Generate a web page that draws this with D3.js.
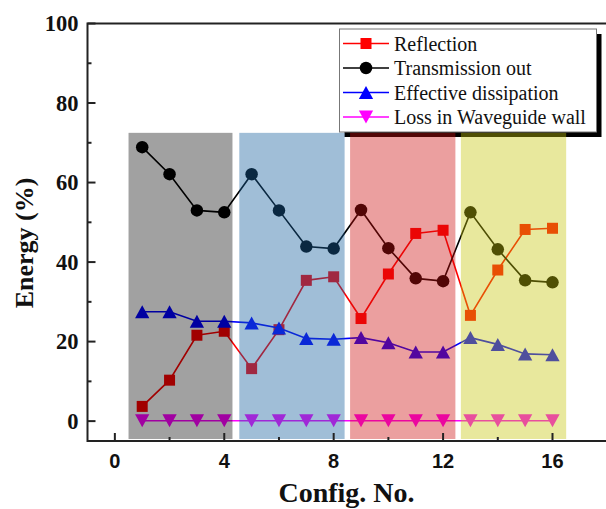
<!DOCTYPE html>
<html><head><meta charset="utf-8">
<script src="https://cdn.jsdelivr.net/npm/d3@7"></script>
<style>body{margin:0;background:#fff;} svg{display:block;}</style>
</head><body>
<svg id="chart" width="606" height="509"></svg>
<script>
const configs = [1,2,3,4,5,6,7,8,9,10,11,12,13,14,15,16];
const reflection = [3.7,10.3,21.6,22.6,13.2,23.0,35.4,36.3,25.8,37.0,47.2,48.0,26.6,38.0,48.2,48.5];
const transmission = [68.9,62.1,53.0,52.5,62.1,53.0,43.9,43.4,53.1,43.5,35.9,35.2,52.5,43.2,35.4,34.9];
const dissipation = [27.5,27.5,25.1,25.1,24.7,23.4,20.8,20.6,21.0,19.7,17.4,17.4,21.0,19.3,16.9,16.7];
const wallLoss = [0.1,0.1,0.1,0.1,0.1,0.1,0.1,0.1,0.1,0.1,0.1,0.1,0.1,0.1,0.1,0.1];
const seriesNames = ["Reflection","Transmission out","Effective dissipation","Loss in Waveguide wall"];
const seriesColors = ["#ff0000","#000000","#0000ff","#ff00ff"];
const seriesMarkers = ["square","circle","up","down"];
const bandStart = [0.5,4.55,8.6,12.65];
const bandEnd = [4.3,8.4,12.45,16.5];
const bandTop = 72.5, bandBottom = -4.5;
const bandColors = ["#000000","rgb(24,98,158)","rgb(205,15,15)","rgb(198,198,10)"];
const bandOpacity = [0.37,0.41,0.4,0.4];
const xTicks = [0,4,8,12,16];
const yTicks = [0,20,40,60,80,100];

const svg = d3.select("#chart");
const x = d3.scaleLinear().domain([-1,18]).range([87.5,607.2]);
const y = d3.scaleLinear().domain([-5,100]).range([441,23.5]);

const allSeries = [reflection, transmission, dissipation, wallLoss];

function markerPath(type, s){
  if(type==="square"){ const h=s/2; return `M${-h},${-h}H${h}V${h}H${-h}Z`; }
  if(type==="circle"){ const r=s/2; return `M${r},0A${r},${r} 0 1,1 ${-r},0A${r},${r} 0 1,1 ${r},0Z`; }
  if(type==="up"){ const w=s*0.55, h=s*0.5; return `M0,${-h}L${w},${h}L${-w},${h}Z`; }
  const w=s*0.55, h=s*0.5; return `M${-w},${-h}L${w},${-h}L0,${h}Z`;
}
const markerSize = {square:11, circle:12.5, up:13, down:13};

// data
const line = d3.line().x((d,i)=>x(configs[i])).y(d=>y(d));
allSeries.forEach((vals,k)=>{
  const g = svg.append("g");
  g.append("path").attr("d", line(vals)).attr("fill","none")
    .attr("stroke", seriesColors[k]).attr("stroke-width",1.6);
  g.selectAll("path.m").data(vals).join("path").attr("class","m")
    .attr("transform",(d,i)=>`translate(${x(configs[i])},${y(d)})`)
    .attr("d", markerPath(seriesMarkers[k], markerSize[seriesMarkers[k]]))
    .attr("fill", seriesColors[k]);
});

// legend
const lg = svg.append("g");
const lx=339.5, ly=29, lw=257, lh=103;
lg.append("rect").attr("x",lx+5).attr("y",ly+5).attr("width",lw).attr("height",lh).attr("fill","#000");
lg.append("rect").attr("x",lx).attr("y",ly).attr("width",lw).attr("height",lh).attr("fill","#fff")
  .attr("stroke","#777").attr("stroke-width",1);
seriesNames.forEach((name,k)=>{
  const yy = ly + 14.5 + k*24.5;
  lg.append("line").attr("x1",343).attr("x2",389).attr("y1",yy).attr("y2",yy)
    .attr("stroke",seriesColors[k]).attr("stroke-width",1.6);
  lg.append("path").attr("transform",`translate(366,${yy})`)
    .attr("d", markerPath(seriesMarkers[k], markerSize[seriesMarkers[k]]))
    .attr("fill",seriesColors[k]);
  lg.append("text").attr("x",394).attr("y",yy).attr("dy","0.35em")
    .attr("font-family","'Liberation Serif','Times New Roman',serif").attr("font-size",20)
    .attr("fill","#111").text(name);
});

// bands overlay
svg.append("g").selectAll("rect").data(bandStart).join("rect")
  .attr("x",(d)=>x(d)).attr("width",(d,i)=>x(bandEnd[i])-x(d))
  .attr("y",y(bandTop)).attr("height",y(bandBottom)-y(bandTop))
  .attr("fill",(d,i)=>bandColors[i]).attr("fill-opacity",(d,i)=>bandOpacity[i]);

// axes frame
const frame = svg.append("g");
frame.append("rect").attr("x",x(-1)).attr("y",y(100)).attr("width",x(18)-x(-1)).attr("height",y(-5)-y(100))
  .attr("fill","none").attr("stroke","#222").attr("stroke-width",2);

// y ticks
const yMinor = d3.range(0,101,10);
yMinor.forEach(v=>{
  const major = v%20===0;
  frame.append("line").attr("x1",x(-1)).attr("x2",x(-1)+(major?8:4)).attr("y1",y(v)).attr("y2",y(v))
    .attr("stroke","#222").attr("stroke-width",2);
});
const xMinor = d3.range(0,18,2);
xMinor.forEach(v=>{
  const major = v%4===0;
  frame.append("line").attr("x1",x(v)).attr("x2",x(v)).attr("y1",y(-5)).attr("y2",y(-5)-(major?8:4))
    .attr("stroke","#222").attr("stroke-width",2);
});
frame.selectAll("text.yt").data(yTicks).join("text").attr("class","yt")
  .attr("x",78.5).attr("y",d=>y(d)).attr("dy","0.35em").attr("text-anchor","end")
  .attr("font-family","'Liberation Serif','Times New Roman',serif").attr("font-weight","bold")
  .attr("font-size",22.5).attr("fill","#111").text(d=>d);
frame.selectAll("text.xt").data(xTicks).join("text").attr("class","xt")
  .attr("x",d=>x(d)).attr("y",468).attr("text-anchor","middle")
  .attr("font-family","'Liberation Sans',Arial,sans-serif").attr("font-weight","bold")
  .attr("font-size",20).attr("fill","#111").text(d=>d);

// titles
svg.append("text").attr("x",346.5).attr("y",501.5).attr("text-anchor","middle")
  .attr("font-family","'Liberation Serif','Times New Roman',serif").attr("font-weight","bold")
  .attr("font-size",28).attr("fill","#111").text("Config. No.");
svg.append("text").attr("transform","translate(32.5,243) rotate(-90)").attr("text-anchor","middle")
  .attr("font-family","'Liberation Serif','Times New Roman',serif").attr("font-weight","bold")
  .attr("font-size",26).attr("fill","#111").text("Energy (%)");
</script>
</body></html>
